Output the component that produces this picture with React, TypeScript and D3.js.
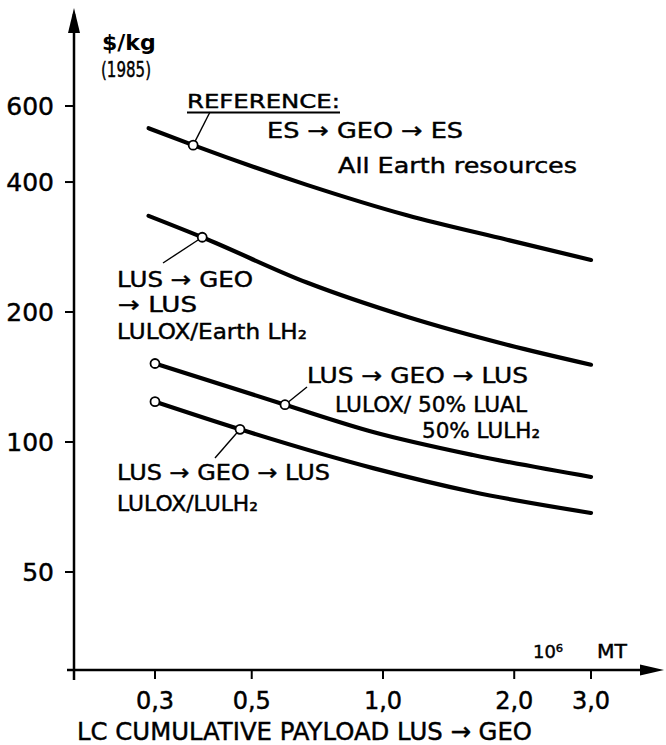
import React from "react";
import * as d3 from "d3";

// ---- data ----
const xTicks = [0.3, 0.5, 1.0, 2.0, 3.0];
const xTickLabels = ["0,3", "0,5", "1,0", "2,0", "3,0"];
const yTicks = [50, 100, 200, 400, 600];
const yTickLabels = ["50", "100", "200", "400", "600"];

const esGeoEsX = [0.29, 0.367, 0.669, 1.135, 1.925, 3.0];
const esGeoEsY = [533, 487, 394, 335, 294, 264];

const lusEarthLH2X = [0.29, 0.385, 0.669, 1.135, 1.925, 3.0];
const lusEarthLH2Y = [334, 298, 234, 195, 168, 151];

const lusLualX = [0.3, 0.596, 0.949, 1.608, 3.0];
const lusLualY = [152, 122, 105.5, 93.3, 83];

const lusLulh2X = [0.3, 0.47, 0.949, 1.608, 3.0];
const lusLulh2Y = [124, 107, 87, 76.6, 68.5];

const markerX = [0.367, 0.385, 0.596, 0.47, 0.3, 0.3];
const markerY = [487, 298, 122, 107, 152, 124];

const FONT = "'DejaVu Sans', 'Liberation Sans', sans-serif";

export default function App() {
  const W = 666, H = 745;
  const x = d3.scaleLog().domain([0.3, 3]).range([155, 591]);
  const y = d3.scaleLog().domain([50, 600]).range([572, 106]);
  const axisX = 74, axisY = 670;

  const line = d3
    .line<[number, number]>()
    .x((d) => x(d[0]))
    .y((d) => y(d[1]))
    .curve(d3.curveMonotoneX);

  const series = [
    [esGeoEsX, esGeoEsY],
    [lusEarthLH2X, lusEarthLH2Y],
    [lusLualX, lusLualY],
    [lusLulh2X, lusLulh2Y],
  ].map(([xs, ys]) => xs.map((v, i) => [v, ys[i]] as [number, number]));

  // leader lines: marker index -> label anchor point
  const leaders: [number, number, number][] = [
    [0, 210, 112],
    [1, 163, 263],
    [2, 307, 387],
    [3, 215, 458],
  ];

  const t = (props: any, content: any) => (
    <text
      fontFamily={FONT}
      fill="#000"
      stroke="#000"
      strokeWidth={0.45}
      lengthAdjust={props.textLength ? "spacingAndGlyphs" : undefined}
      {...props}
    >
      {content}
    </text>
  );

  return (
    <svg
      width={W}
      height={H}
      style={{ position: "absolute", left: 0, top: 0, background: "#fff" }}
    >
      <rect x={0} y={0} width={W} height={H} fill="#fff" />
      {/* axes */}
      <line x1={axisX} y1={14} x2={axisX} y2={680} stroke="#000" strokeWidth={2.5} />
      <path d={`M${axisX},8 L${axisX - 6},33 L${axisX + 6},33 Z`} fill="#000" />
      <line x1={67} y1={axisY} x2={650} y2={axisY} stroke="#000" strokeWidth={2.5} />
      <path d={`M664,${axisY} L640,${axisY - 5.5} L640,${axisY + 5.5} Z`} fill="#000" />

      {/* y ticks */}
      {yTicks.map((v, i) => (
        <g key={"y" + v}>
          <line x1={axisX - 9} y1={y(v)} x2={axisX} y2={y(v)} stroke="#000" strokeWidth={2} />
          {t({ x: 54, y: y(v) + 9, fontSize: 25, textAnchor: "end" }, yTickLabels[i])}
        </g>
      ))}
      {/* x ticks */}
      {xTicks.map((v, i) => (
        <g key={"x" + v}>
          <line x1={x(v)} y1={axisY} x2={x(v)} y2={axisY + 9} stroke="#000" strokeWidth={2} />
          {t({ x: x(v), y: 709, fontSize: 24, textAnchor: "middle" }, xTickLabels[i])}
        </g>
      ))}

      {/* axis titles */}
      {t({ x: 102, y: 50, fontSize: 22, fontWeight: "bold", strokeWidth: 0 }, "$/kg")}
      {t({ x: 101, y: 77, fontSize: 22, textLength: 50 }, "(1985)")}
      {t({ x: 533, y: 658, fontSize: 18, textLength: 30 }, "10\u2076")}
      {t({ x: 597, y: 658, fontSize: 19, textLength: 30 }, "MT")}
      {t({ x: 77, y: 740, fontSize: 25, textLength: 455 }, "LC CUMULATIVE PAYLOAD LUS \u2192 GEO")}

      {/* curves */}
      {series.map((s, i) => (
        <path key={"c" + i} d={line(s) || ""} fill="none" stroke="#000" strokeWidth={4.2} strokeLinecap="round" />
      ))}

      {/* leader lines */}
      {leaders.map(([mi, lx, ly], i) => (
        <line key={"l" + i} x1={x(markerX[mi])} y1={y(markerY[mi])} x2={lx} y2={ly} stroke="#000" strokeWidth={1.4} />
      ))}

      {/* markers */}
      {markerX.map((v, i) => (
        <circle key={"m" + i} cx={x(v)} cy={y(markerY[i])} r={4.5} fill="#fff" stroke="#000" strokeWidth={1.8} />
      ))}

      {/* annotations */}
      {t({ x: 187, y: 108, fontSize: 20, textLength: 153 }, "REFERENCE:")}
      <line x1={187} y1={112.5} x2={340} y2={112.5} stroke="#000" strokeWidth={1.8} />
      {t({ x: 267, y: 138, fontSize: 22, textLength: 196 }, "ES \u2192 GEO \u2192 ES")}
      {t({ x: 338, y: 173, fontSize: 22, textLength: 239 }, "All Earth resources")}

      {t({ x: 117, y: 287, fontSize: 22, textLength: 136 }, "LUS \u2192 GEO")}
      {t({ x: 118, y: 312, fontSize: 22, textLength: 79 }, "\u2192 LUS")}
      {t({ x: 117, y: 339, fontSize: 22, textLength: 190 }, "LULOX/Earth LH\u2082")}

      {t({ x: 307, y: 383, fontSize: 22, textLength: 221 }, "LUS \u2192 GEO \u2192 LUS")}
      {t({ x: 335, y: 412, fontSize: 22, textLength: 192 }, "LULOX/ 50% LUAL")}
      {t({ x: 422, y: 438, fontSize: 22, textLength: 118 }, "50% LULH\u2082")}

      {t({ x: 117, y: 480, fontSize: 22, textLength: 213 }, "LUS \u2192 GEO \u2192 LUS")}
      {t({ x: 117, y: 511, fontSize: 22, textLength: 141 }, "LULOX/LULH\u2082")}
    </svg>
  );
}
